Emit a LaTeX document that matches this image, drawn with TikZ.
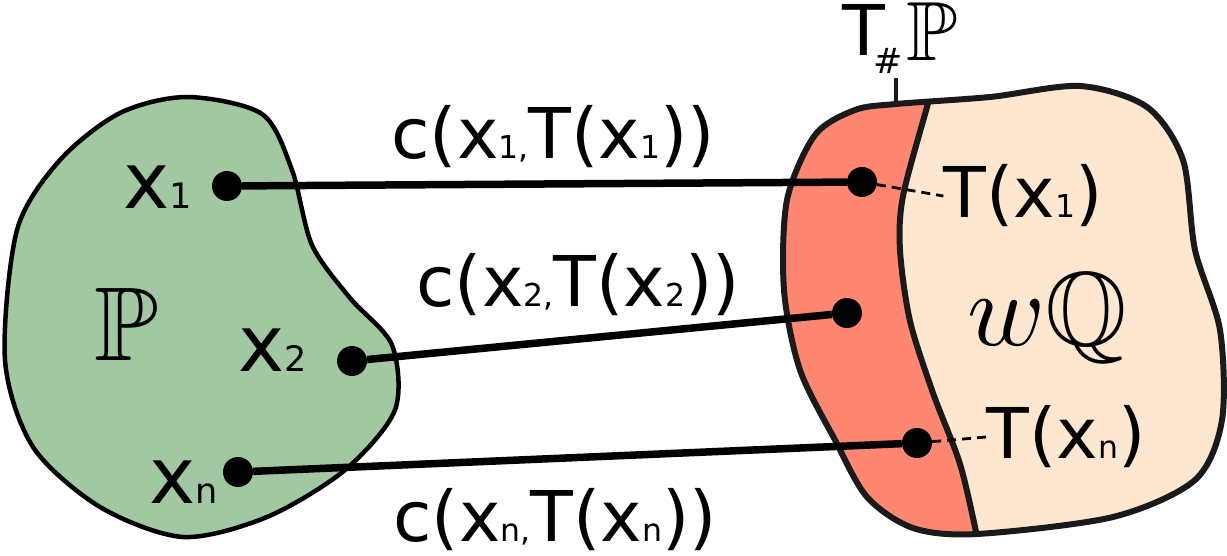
\documentclass[tikz,border=0pt]{standalone}
\usepackage{amsmath}
\usepackage{amssymb}
\usepackage{fontspec}
\setmainfont{DejaVu Sans}
\usepackage{tikz}

\definecolor{pgreen}{HTML}{A1C8A0}
\definecolor{qsalmon}{HTML}{FF8670}
\definecolor{qpeach}{HTML}{FEE7D0}
\definecolor{edge}{HTML}{1A1A1A}

\newcommand{\lsub}[1]{\scalebox{0.45}{#1}}
\newcommand{\bbig}[2]{\scalebox{#1}{$#2$}}

\begin{document}
\begin{tikzpicture}[x=1pt, y=-1pt,
        dot/.style={circle, fill, inner sep=0pt, minimum size=30pt},
        conn/.style={line width=7.5pt},
        leader/.style={dash pattern=on 9pt off 6pt, line width=2.8pt},
        lbl/.style={inner sep=0pt, font=\fontsize{70}{84}\selectfont},
        ptlbl/.style={inner sep=0pt, font=\fontsize{78}{94}\selectfont}]
        \useasboundingbox (0, 0) rectangle (1227, 556);

        % source measure
        \draw [line width=4.5pt, fill=pgreen] plot [smooth cycle] coordinates {
            (187, 97) (262, 114) (292, 170) (312, 245) (350, 298) (392, 345)
            (395, 410) (345, 470) (267, 517) (183, 537) (100, 507) (33, 447)
            (5, 360) (17, 230) (60, 160) (120, 113)};
        \node [inner sep=0pt] (pp) at (127, 324) {\bbig{10.5}{\mathbb{P}}};

        % target measure
        \path [save path=\qblob] plot [smooth cycle] coordinates {
            (896, 104) (990, 97) (1080, 86) (1147, 107) (1183, 160) (1195, 250)
            (1220, 330) (1222, 420) (1195, 480) (1113, 517) (977, 534) (913, 528)
            (867, 497) (835, 440) (800, 370) (784, 290) (787, 200) (815, 135) (855, 110)};
        \fill [qpeach, use path=\qblob];
        \begin{scope}
            \clip [use path=\qblob];
            \fill [qsalmon] (760, 60) -- (930, 60) -- plot [smooth] coordinates {
                (930, 95) (927, 107) (903, 196) (900, 250) (910, 321) (933, 393)
                (960, 464) (977, 536) (980, 550)} -- (760, 560) -- cycle;
            \draw [line width=6pt, edge] plot [smooth] coordinates {
                (930, 95) (927, 107) (903, 196) (900, 250) (910, 321) (933, 393)
                (960, 464) (977, 536) (980, 550)}; % push-forward boundary
        \end{scope}
        \draw [line width=6pt, edge, use path=\qblob];
        \node [inner sep=0pt] (wq) at (1047, 318) {\bbig{10.5}{w\mathbb{Q}}};

        % push-forward label
        \coordinate (tick) at (896, 104);
        \node [lbl] (tp) at (900, 38) {T\kern-0.17em\raisebox{-0.25em}{\scalebox{0.5}{\#}}\kern0.05em\raisebox{-0.07em}{\bbig{1.2}{\mathbb{P}}}};
        \draw [line width=4pt, edge] (tick) -- ++(0, -26);

        % points
        \node [dot] (p1) at (227, 186) {};
        \node [dot] (p2) at (352, 361) {};
        \node [dot] (pn) at (238, 472) {};
        \node [dot] (q1) at (862, 182) {};
        \node [dot] (q2) at (847, 313) {};
        \node [dot] (qn) at (917, 443) {};

        \node [ptlbl] (lx1) at (158, 187) {x\lsub{1}};
        \node [ptlbl] (lx2) at (273, 350) {x\lsub{2}};
        \node [ptlbl] (lxn) at (184, 482) {x\lsub{n}};

        \node [lbl] (tq1) at (1023, 196) {T(x\lsub{1})};
        \node [lbl] (tqn) at (1066, 437) {T(x\lsub{n})};
        \draw [leader] (q1) -- (tq1.west);
        \draw [leader] (qn) -- (tqn.west);

        % transport costs
        \draw [conn] (p1) -- (q1);
        \draw [conn] (p2) -- (q2);
        \draw [conn] (pn) -- (qn);
        \node [lbl] (c1) at (553, 137) {c(x\lsub{1,}T(x\lsub{1}))};
        \node [lbl] (c2) at (578, 285) {c(x\lsub{2,}T(x\lsub{2}))};
        \node [lbl] (cn) at (555, 520) {c(x\lsub{n,}T(x\lsub{n}))};
    \end{tikzpicture}
\end{document}
